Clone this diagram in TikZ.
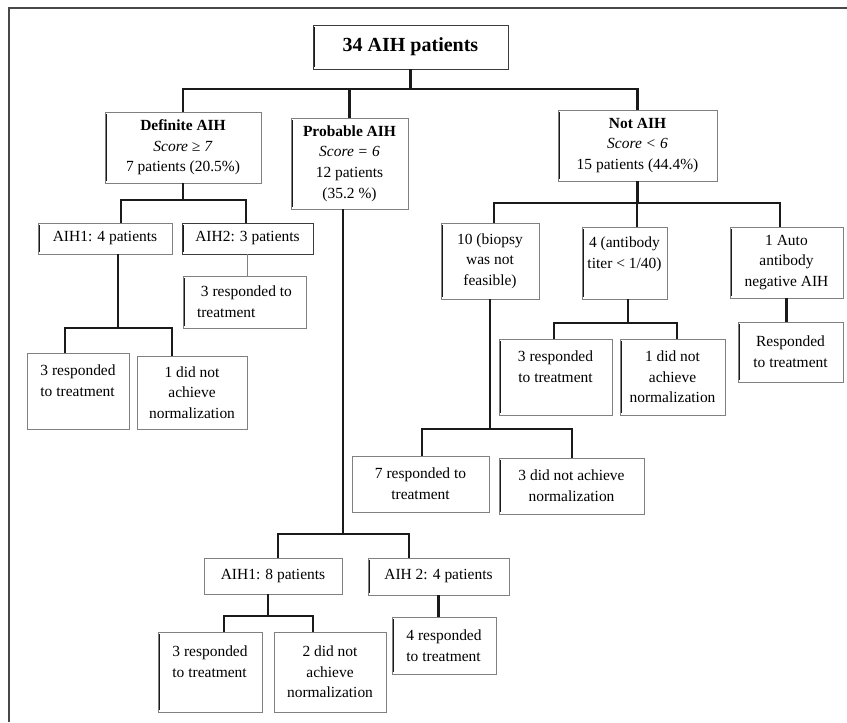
\documentclass[tikz,border=0pt]{standalone}
\usepackage{fontspec}
\setmainfont{Liberation Serif}
\usepackage{xcolor}
\definecolor{cLine}{HTML}{1A1A1A}
\definecolor{cFrame}{HTML}{808080}
\usepackage{tikz}
\usetikzlibrary{positioning,calc}
\tikzset{
  node-box/.style={draw=cFrame,line width=0.7pt,align=center,inner sep=2pt,
    font=\fontsize{11.6}{15.5}\selectfont},
  node-bar/.style={path picture={\draw[line width=2.6pt,cLine]
      ([yshift=-1.5pt]path picture bounding box.north west) --
      ([yshift=1.5pt]path picture bounding box.south west);}},
  node-dark/.style={draw=cLine!85},
  sz/.style 2 args={minimum width=#1*0.75pt,minimum height=#2*0.75pt},
  link/.style={draw=cLine,line width=1.6pt},
  link-thin/.style={draw=cFrame,line width=0.9pt},
}

\begin{document}
\begin{tikzpicture}[x=0.75pt,y=-0.75pt]
  \useasboundingbox (0,0) rectangle (847,722);
  \draw[line width=1.5pt,cLine!80] (9,722) -- (9,7.5) -- (847,7.5);

  % level 0 / 1
  \node[node-box,node-bar,node-dark,sz={195}{44},
    font=\bfseries\fontsize{15}{18}\selectfont] (top) at (410.5,47) {34 AIH patients};
  \node[node-box,node-bar,sz={156}{71}] (def) at (183,147.5)
    {\textbf{Definite AIH}\\\textit{Score ≥ 7}\\7 patients (20.5\%)};
  \node[node-box,node-bar,sz={117}{91}] (prob) at (349.5,163.5)
    {\textbf{Probable AIH}\\\textit{Score = 6}\\12 patients\\(35.2 \%)};
  \node[node-box,node-bar,sz={159}{71}] (notaih) at (637.5,145.5)
    {\textbf{Not AIH}\\\textit{Score < 6}\\15 patients (44.4\%)};

  % definite AIH
  \node[node-box,node-bar,sz={134}{31}] (aih1a) at (105,238.5) {AIH1: 4 patients};
  \node[node-box,node-bar,node-dark,sz={131}{31}] (aih2a) at (247.5,238.5) {AIH2: 3 patients};
  \node[node-box,node-bar,sz={123}{52},align=left] (resp2a) at (244.5,302) {\ 3 responded to\\treatment};
  \node[node-box,sz={102}{76},align=left] (resp1a) at (78,391) {3 responded\\to treatment\\~};
  \node[node-box,sz={110}{73}] (nonorm1a) at (192,392.5) {1 did not\\achieve\\normalization};

  % not AIH
  \node[node-box,node-bar,sz={98}{76}] (biopsy) at (490,261) {10 (biopsy\\was not\\feasible)};
  \node[node-box,node-bar,sz={85}{72}] (titer) at (624.5,263) {4 (antibody\\titer < 1/40)\\~};
  \node[node-box,node-bar,sz={113}{71}] (auto) at (786.5,262.5) {1 Auto\\antibody\\negative AIH};
  \node[node-box,node-bar,sz={113}{76}] (resptiter) at (555.5,377) {3 responded\\to treatment\\~};
  \node[node-box,node-bar,sz={105}{76}] (nonormtiter) at (672.5,377) {1 did not\\achieve\\normalization};
  \node[node-box,node-bar,sz={105}{60}] (respauto) at (790.5,352) {Responded\\to treatment};
  \node[node-box,sz={137}{56}] (respbiopsy) at (420.5,484) {7 responded to\\treatment};
  \node[node-box,node-bar,sz={145}{56}] (nonormbiopsy) at (571.5,486) {3 did not achieve\\normalization};

  % probable AIH
  \node[node-box,sz={138}{36}] (aih1b) at (273,576) {AIH1: 8 patients};
  \node[node-box,node-bar,sz={141}{37}] (aih2b) at (438.5,576.5) {AIH 2: 4 patients};
  \node[node-box,node-bar,sz={104}{80},align=left] (resp1b) at (210,672) {3 responded\\to treatment\\~};
  \node[node-box,sz={112}{80}] (nonorm1b) at (330,672) {2 did not\\achieve\\normalization};
  \node[node-box,node-bar,sz={104}{57},align=left] (resp2b) at (444,645.5) {4 responded\\to treatment};

  % branch points
  \coordinate (bar-top) at (0,89);
  \coordinate (k-def-1) at (121,200);
  \coordinate (k-def-2) at (246,200);
  \coordinate (k-aih1a-1) at (65,328);
  \coordinate (k-aih1a-2) at (172,328);
  \coordinate (k-prob-1) at (278,534);
  \coordinate (k-prob-2) at (409,534);
  \coordinate (k-aih1b-1) at (224,616);
  \coordinate (k-aih1b-2) at (313,616);
  \coordinate (k-not-1) at (494,203);
  \coordinate (k-not-2) at (637,203);
  \coordinate (k-not-3) at (780,203);
  \coordinate (k-titer-1) at (554,323);
  \coordinate (k-titer-2) at (677,323);
  \coordinate (k-biopsy-1) at (422,429);
  \coordinate (k-biopsy-2) at (572,429);

  \foreach \c in {def,prob,notaih}
    \draw[link] (top.south) |- (\c.north |- bar-top) -- (\c.north);
  \draw[link] (def.south) |- (k-def-1) -- (k-def-1 |- aih1a.north);
  \draw[link] (def.south) |- (k-def-2) -- (k-def-2 |- aih2a.north);
  \draw[link-thin] (aih2a.south) -- (aih2a.south |- resp2a.north);
  \draw[link] ([xshift=9.75pt]aih1a.south) |- (k-aih1a-1) -- (k-aih1a-1 |- resp1a.north);
  \draw[link] ([xshift=9.75pt]aih1a.south) |- (k-aih1a-2) -- (k-aih1a-2 |- nonorm1a.north);
  \draw[link] ([xshift=-4.9pt]prob.south) |- (k-prob-1) -- (k-prob-1 |- aih1b.north);
  \draw[link] ([xshift=-4.9pt]prob.south) |- (k-prob-2) -- (k-prob-2 |- aih2b.north);
  \draw[link] ([xshift=-3.75pt]aih1b.south) |- (k-aih1b-1) -- (k-aih1b-1 |- resp1b.north);
  \draw[link] ([xshift=-3.75pt]aih1b.south) |- (k-aih1b-2) -- (k-aih1b-2 |- nonorm1b.north);
  \draw[link] (aih2b.south) -- (aih2b.south |- resp2b.north);
  \draw[link] (notaih.south) |- (k-not-1) -- (k-not-1 |- biopsy.north);
  \draw[link] (notaih.south) |- (k-not-2) -- (k-not-2 |- titer.north);
  \draw[link] (notaih.south) |- (k-not-3) -- (k-not-3 |- auto.north);
  \draw[link] ([xshift=2.6pt]titer.south) |- (k-titer-1) -- (k-titer-1 |- resptiter.north);
  \draw[link] ([xshift=2.6pt]titer.south) |- (k-titer-2) -- (k-titer-2 |- nonormtiter.north);
  \draw[link] (auto.south) -- (auto.south |- respauto.north);
  \draw[link] (biopsy.south) |- (k-biopsy-1) -- (k-biopsy-1 |- respbiopsy.north);
  \draw[link] (biopsy.south) |- (k-biopsy-2) -- (k-biopsy-2 |- nonormbiopsy.north);
\end{tikzpicture}
\end{document}
